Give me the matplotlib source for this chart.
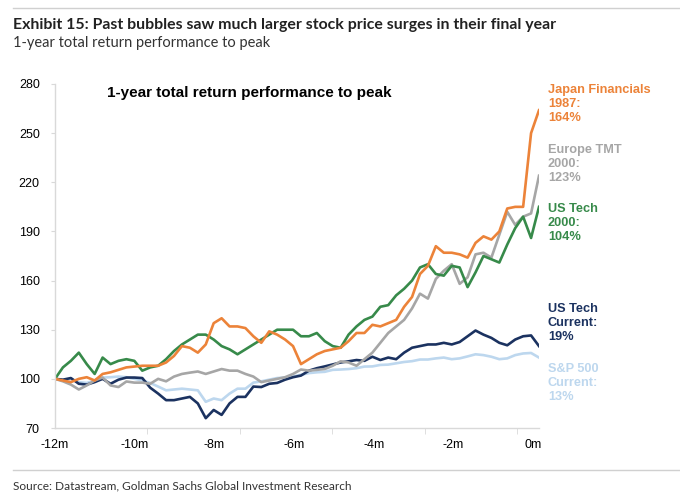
import matplotlib.pyplot as plt
import numpy as np

# months to peak, about one point every 0.2 month
months = np.linspace(-12, 0.15, 62)

japan_fin_1987 = [100, 99, 98, 100, 101, 99, 103, 104, 105.5, 107,
                  107.5, 108, 108, 108, 110, 114, 120, 119, 116, 121,
                  134, 137, 132, 132, 131, 126, 122, 129, 127, 124,
                  120, 109, 112, 115, 117, 118, 119, 123, 128, 128,
                  133, 132, 134, 136, 144, 150, 164, 169, 181, 177,
                  177, 176, 174, 183, 187, 185, 190, 204, 205, 205,
                  250, 264]
europe_tmt_2000 = [100, 98.5, 96.5, 93.5, 96, 99, 100.8, 96, 95, 98.4,
                   97.7, 97.7, 97, 100, 98.5, 101.4, 103, 103.8, 104.5, 103,
                   104.5, 106, 105, 105, 103, 101.4, 98, 99, 100, 101,
                   103, 105.7, 105, 105.5, 106, 108, 110.7, 110, 108, 112,
                   116, 122, 128, 132, 136, 143, 152, 149, 161, 166,
                   170, 158, 162, 176, 177, 174, 188, 202, 194, 199,
                   201, 224]
us_tech_2000 = [100, 107, 111, 116, 109, 103, 113, 109, 111, 112,
                111, 105, 107, 108, 112, 117, 121, 124, 127, 127,
                124, 120, 118, 115, 118, 121, 124, 127, 130, 130,
                130, 126, 126, 128, 123, 120, 119, 127, 132, 136,
                138, 144, 145, 151, 155, 160, 168, 170, 164, 163,
                169, 168, 156, 165, 175, 173, 171, 182, 192, 199,
                186, 205]
us_tech_now = [100, 99.5, 100.5, 97, 96.5, 98, 100, 97, 99.5, 100.8,
               100.8, 100.5, 94.6, 91, 87, 87, 88, 89, 85, 76,
               81, 78, 85, 89, 89, 95.3, 95, 97, 97.5, 99.5,
               101, 102, 105, 106.5, 107.6, 108.8, 110, 110.7, 111.5, 111,
               113.5, 111.5, 113, 112, 116, 119, 120, 121, 121, 122,
               121, 122.5, 126, 129.5, 127, 125, 122, 120.5, 124, 126,
               126.5, 120]
sp500_now = [100, 99, 100, 98, 97.5, 99, 100.8, 101, 101.4, 101,
             100, 99, 97.5, 95.3, 93, 93.5, 94, 93.5, 93, 86,
             88, 87, 91, 94, 94, 97.7, 98.5, 99.5, 100.5, 100.8,
             101.4, 102.5, 103.5, 104, 104.3, 105.5, 105.7, 106, 106.5, 107.5,
             107.6, 108.5, 108.7, 109.5, 110.3, 110.8, 111.8, 111.8, 112.5, 113,
             112, 112.5, 113.7, 115, 114.5, 113.5, 112, 112.5, 114.5, 115.5,
             115.8, 113]

series = [
    (sp500_now, '#BDD7EE', 'S&P 500\nCurrent:\n13%'),
    (us_tech_now, '#1B3260', 'US Tech\nCurrent:\n19%'),
    (europe_tmt_2000, '#A6A6A6', 'Europe TMT\n2000:\n123%'),
    (us_tech_2000, '#378A4A', 'US Tech\n2000:\n104%'),
    (japan_fin_1987, '#EC8339', 'Japan Financials\n1987:\n164%'),
]
label_y = [383, 323, 164, 223, 104]  # pixel rows of the middle label line

y_ticks = [70, 100, 130, 160, 190, 220, 250, 280]
x_labels = ['-12m', '-10m', '-8m', '-6m', '-4m', '-2m', '0m']
x_label_pos = [-12, -10, -8, -6, -4, -2, 0]

W, H = 680, 498
fig = plt.figure(figsize=(W / 100, H / 100), dpi=100)
ax = fig.add_axes([55 / W, 1 - 428 / H, (539 - 55) / W, (428 - 84) / H])

for vals, col, lab in series:
    ax.plot(months, vals, color=col, lw=1.9, solid_joinstyle='round')

ax.set_xlim(-12, 0.15)
ax.set_ylim(70, 280)
ax.set_yticks(y_ticks)
ax.set_yticklabels([str(t) for t in y_ticks], fontsize=9, family='Liberation Sans')

# labels every 2 months, tick marks every 50 trading days
ax.set_xticks(x_label_pos)
ax.set_xticklabels(x_labels, fontsize=9, family='Liberation Sans')
ax.tick_params(axis='x', which='major', length=0, pad=8)
ax.set_xticks(np.arange(-12, 0.1, 2.32), minor=True)
ax.tick_params(axis='x', which='minor', length=4, color='#D9D9D9', direction='out')
ax.tick_params(axis='y', length=3, color='#D9D9D9', pad=8)

for s in ['top', 'right']:
    ax.spines[s].set_visible(False)
for s in ['left', 'bottom']:
    ax.spines[s].set_color('#D9D9D9')
    ax.spines[s].set_linewidth(1)

fig.text(107 / W, 1 - 93 / H, '1-year total return performance to peak',
         fontsize=11, fontweight='bold', family='Liberation Sans', va='center', ha='left')

for (vals, col, lab), yy in zip(series, label_y):
    fig.text(548 / W, 1 - yy / H, lab, color=col, fontsize=9.2, fontweight='bold',
             family='Liberation Sans', va='center', ha='left', linespacing=1.22)

# header, footer
fig.text(13 / W, 1 - 25 / H, 'Exhibit 15: Past bubbles saw much larger stock price surges in their final year',
         fontsize=11.4, fontweight='bold', family='Lato', color='#222222', va='center')
fig.text(13 / W, 1 - 43 / H, '1-year total return performance to peak', fontsize=10.5,
         family='Lato', color='#333333', va='center')
fig.text(13 / W, 1 - 486 / H, 'Source: Datastream, Goldman Sachs Global Investment Research', fontsize=8.6,
         family='Lato', color='#333333', va='center')
fig.add_artist(plt.Line2D([13 / W, 1], [1 - 8 / H] * 2, color='#D0D0D0', lw=1))
fig.add_artist(plt.Line2D([13 / W, 1], [1 - 470 / H] * 2, color='#D0D0D0', lw=1))

fig.savefig('out.png', dpi=100)
